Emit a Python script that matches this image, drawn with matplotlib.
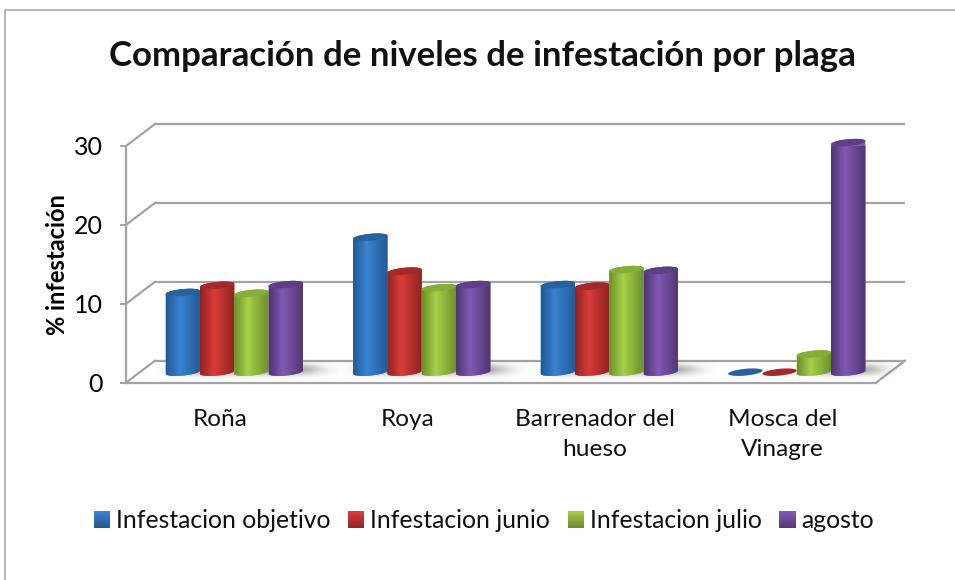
import numpy as np
import matplotlib
matplotlib.use('Agg')
import matplotlib.pyplot as plt
from matplotlib.colors import LinearSegmentedColormap
from matplotlib.legend_handler import HandlerBase
from matplotlib.lines import Line2D
from matplotlib.patches import Patch, Polygon, Rectangle
from matplotlib.transforms import Affine2D, IdentityTransform

plt.rcParams['font.family'] = ['Lato', 'DejaVu Sans']

categories = ['Roña', 'Roya', 'Barrenador del\nhueso', 'Mosca del\nVinagre']
series_names = ['Infestacion objetivo', 'Infestacion junio', 'Infestacion julio', 'agosto']
objetivo = [10.1, 17.1, 11.1, 0]
junio = [11.0, 12.8, 10.9, 0]
julio = [10.0, 10.7, 13.0, 2.3]
agosto = [11.1, 11.1, 12.9, 29.1]
yticks = [0, 10, 20, 30]

series = [objetivo, junio, julio, agosto]
# edge, centre, top ellipse
colors = [('#1f5a96', '#3b82d2', '#28619c'),
          ('#8e2421', '#da3c3a', '#a32a28'),
          ('#6c8f2a', '#a6d14a', '#86ad35'),
          ('#4f3570', '#8259b3', '#5e3f85')]
grey = '#a3a3a3'

W, H = 955, 580
fig = plt.figure(figsize=(W / 100, H / 100), dpi=100)
ax = fig.add_axes([126 / W, (H - 382.7) / H, 750 / W, 236.7 / H])
ax.set_autoscale_on(False)
ax.set_xlim(0, 4)
ax.set_ylim(0, 30)
ax.patch.set_alpha(0)

px_x = 750 / 4
px_y = 236.7 / 30

# chart frame
fig.add_artist(Line2D([4.5 / W, 4.5 / W, 1], [0, 1 - 9.5 / H, 1 - 9.5 / H], color=grey, lw=1.1))

# walls of the 3d box
back = ax.transData + Affine2D().translate(29, 22)
ax.hlines(yticks, 0, 4, transform=back, color=grey, lw=1.6, clip_on=False, zorder=1)
for xv, t in [(0, 0), (0, 10), (0, 20), (0, 30), (4, 0)]:
    x0, y0 = ax.transData.transform((xv, t))
    ax.add_line(Line2D([x0, x0 + 29], [y0, y0 + 22], transform=IdentityTransform(),
                       color=grey, lw=1.6, zorder=1, clip_on=False))

for side in ['top', 'right']:
    ax.spines[side].set_visible(False)
for side in ['left', 'bottom']:
    ax.spines[side].set_color(grey)
    ax.spines[side].set_linewidth(1.6)

ax.set_yticks(yticks)
ax.set_xticks(np.arange(4) + 0.5)
ax.set_xticklabels(categories, fontsize=17.6, linespacing=1.55, color='#111111')
ax.tick_params(axis='x', length=0, pad=19)
ax.tick_params(axis='y', length=4.5, width=1.4, color=grey, labelsize=18, pad=12)
ax.set_ylabel('% infestación', fontsize=17, fontweight='bold', labelpad=4)

fig.text(482 / W, 1 - 56 / H, 'Comparación de niveles de infestación por plaga',
         fontsize=25.1, fontweight='bold', ha='center', va='center', color='#111111')

# cylinders sit halfway back on the floor
bar_trans = ax.transData + Affine2D().translate(14.5, 10.5)
bar_w = 34.3 / px_x
half_w = 17.2 / px_x
ry = 3.4 / px_y
tilt = 1.6 / px_y


def ring(cx, y, start, stop):
    t = np.linspace(start, stop, 40)
    return np.column_stack([cx + half_w * np.cos(t), y + ry * np.sin(t) + tilt * np.cos(t)])


yy, xx = np.mgrid[-1:1:60j, -1:1:120j]
shadow = np.zeros((60, 120, 4))
shadow[..., :3] = 0.4
shadow[..., 3] = 0.5 * np.exp(-(xx ** 2 + yy ** 2) * 3.5)

for s, vals in enumerate(series):
    for c, v in enumerate(vals):
        cx = c + 0.5 + (s - 1.5) * bar_w
        if v > 1:
            ax.imshow(shadow, aspect='auto', zorder=2, clip_on=False, transform=bar_trans,
                      extent=(cx - 0.15, cx + 0.3, -1.0, 1.6))

for s, vals in enumerate(series):
    edge, mid, top = colors[s]
    cmap = LinearSegmentedColormap.from_list('c', [(0, edge), (0.4, mid), (1, edge)])
    for c, v in enumerate(vals):
        cx = c + 0.5 + (s - 1.5) * bar_w
        z = 3 + s * 0.1
        if v > 0:
            outline = np.vstack([ring(cx, 0, np.pi, 2 * np.pi), ring(cx, v, 0, np.pi)])
            body = Polygon(outline, closed=True, fc=mid, ec='none', transform=bar_trans,
                           zorder=z, clip_on=False)
            ax.add_patch(body)
            im = ax.imshow(np.linspace(0, 1, 64)[None, :], cmap=cmap, aspect='auto', zorder=z,
                           transform=bar_trans, extent=(cx - half_w, cx + half_w, -3, 40))
            im.set_clip_path(body)
            im.set_clip_box(None)
        ax.add_patch(Polygon(ring(cx, v, 0, 2 * np.pi), closed=True, fc=top, ec='none',
                             transform=bar_trans, zorder=z + 0.05, clip_on=False))


class GradientHandle(HandlerBase):
    def create_artists(self, legend, orig, xd, yd, width, height, fontsize, trans):
        light = np.array(matplotlib.colors.to_rgb(orig.get_facecolor()))
        dark = light * 0.65
        out = []
        for i in range(10):
            c = dark + (light - dark) * (i + 0.5) / 10
            out.append(Rectangle((-xd, -yd + height * i / 10), width, height / 10 + 0.2,
                                 fc=c, ec='none', transform=trans))
        return out


handles = [Patch(fc=c[1]) for c in colors]
fig.legend(handles, series_names, ncol=4, frameon=False, fontsize=17.8,
           loc='center', bbox_to_anchor=(484 / W, 1 - 521 / H),
           handlelength=0.66, handleheight=0.66, handletextpad=0.25, columnspacing=0.7,
           handler_map={Patch: GradientHandle()}, labelcolor='#111111')

fig.savefig('out.png', dpi=100)
